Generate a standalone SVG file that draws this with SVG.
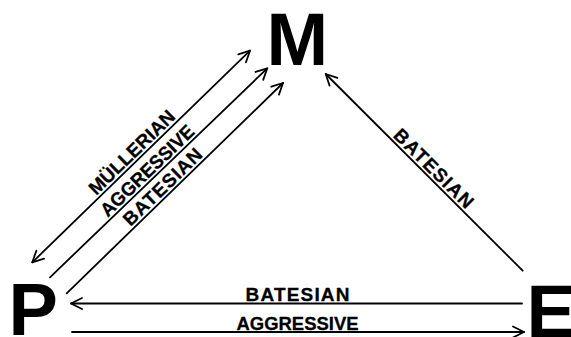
<svg xmlns="http://www.w3.org/2000/svg" width="571" height="337" viewBox="0 0 571 337">
<style>
.node{font-family:"Liberation Sans",Arial,sans-serif;font-weight:bold;font-size:74px;fill:#000}
.lbl{font-family:"Liberation Sans",Arial,sans-serif;font-weight:bold;font-size:19px;fill:#000;stroke:#000;stroke-width:0.3;text-anchor:middle}
.ln{stroke:#000;stroke-width:1.8;fill:none;stroke-linecap:round}
</style>
<defs>
<marker id="ah" markerUnits="userSpaceOnUse" markerWidth="30" markerHeight="30" refX="0" refY="0" orient="auto-start-reverse" overflow="visible">
<path d="M -11 -5.5 L 0 0 L -11 5.5" fill="none" stroke="#000" stroke-width="1.8" stroke-linecap="round" stroke-linejoin="round"/>
</marker>
</defs>
<rect width="571" height="337" fill="#fff"/>
<g id="node-M"><text class="node" x="266.6" y="65">M</text></g>
<g id="node-P"><text class="node" x="8.4" y="335">P</text></g>
<g id="node-E"><text class="node" x="526.4" y="336.5">E</text></g>
<g id="connectors">
<line class="ln" x1="32.3" y1="262.3" x2="250" y2="50.7" marker-start="url(#ah)" marker-end="url(#ah)"/>
<line class="ln" x1="50" y1="277.3" x2="267.3" y2="68.3" marker-end="url(#ah)"/>
<line class="ln" x1="66.7" y1="293.3" x2="283" y2="83" marker-end="url(#ah)"/>
<line class="ln" x1="522.7" y1="270.7" x2="325.7" y2="74" marker-end="url(#ah)"/>
<line class="ln" x1="522" y1="303.5" x2="71" y2="303.5" marker-end="url(#ah)"/>
<line class="ln" x1="72" y1="332" x2="524" y2="332" marker-end="url(#ah)"/>
</g>
<g id="labels">
<text class="lbl" transform="translate(138.4,159.1) rotate(-44.18)" x="0" y="-3" textLength="112" lengthAdjust="spacingAndGlyphs">MÜLLERIAN</text>
<text class="lbl" transform="translate(153.8,177.5) rotate(-43.89)" x="0" y="-3" textLength="122" lengthAdjust="spacingAndGlyphs">AGGRESSIVE</text>
<text class="lbl" transform="translate(169.2,193.6) rotate(-44.19)" x="0" y="-3" textLength="102" lengthAdjust="spacing">BATESIAN</text>
<text class="lbl" transform="translate(427,175.2) rotate(44.96)" x="0" y="-3" textLength="104" lengthAdjust="spacing">BATESIAN</text>
<text class="lbl" x="297.5" y="300.5" textLength="104" lengthAdjust="spacing">BATESIAN</text>
<text class="lbl" x="297.5" y="330" textLength="122" lengthAdjust="spacingAndGlyphs">AGGRESSIVE</text>
</g>
</svg>
